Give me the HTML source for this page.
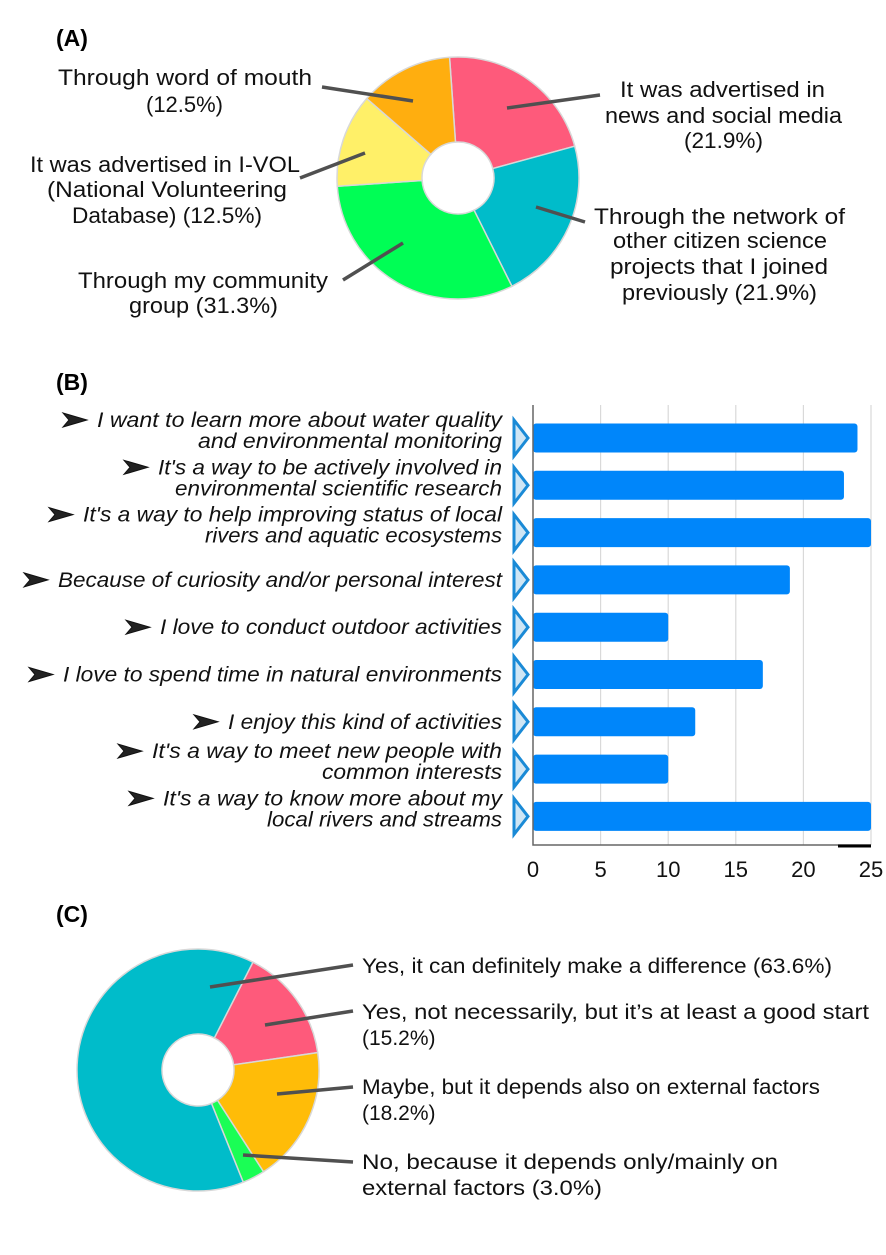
<!DOCTYPE html>
<html><head><meta charset="utf-8"><style>
html,body{margin:0;padding:0;background:#fff;}
svg{display:block;font-family:"Liberation Sans",sans-serif;}
</style></head><body>
<svg id="fig" width="886" height="1255" viewBox="0 0 886 1255" xmlns="http://www.w3.org/2000/svg">
<text x="56" y="46" font-size="23" font-weight="bold">(A)</text>
<text x="56" y="390" font-size="23" font-weight="bold">(B)</text>
<text x="56" y="922" font-size="23" font-weight="bold">(C)</text>
<g id="donutA"></g>
<g id="donutC"></g>
<g id="barB"></g>
</svg>
<script>
const NS="http://www.w3.org/2000/svg";
// Panel A data
const aCategories=["It was advertised in news and social media","Through the network of other citizen science projects that I joined previously","Through my community group","It was advertised in I-VOL (National Volunteering Database)","Through word of mouth"];
const aValues=[21.9,21.9,31.3,12.5,12.5];
const aColors=["#fe5a7b","#00bcca","#00fe55","#fff068","#ffae0f"];
// Panel C data
const cCategories=["Yes, not necessarily, but it's at least a good start","Maybe, but it depends also on external factors","No, because it depends only/mainly on external factors","Yes, it can definitely make a difference"];
const cValues=[15.2,18.2,3.0,63.6];
const cColors=["#fe5a7b","#ffbc08","#1afe55","#00bcca"];
// Panel B data
const bCategories=["I want to learn more about water quality|and environmental monitoring","It's a way to be actively involved in|environmental scientific research","It's a way to help improving status of local|rivers and aquatic ecosystems","Because of curiosity and/or personal interest","I love to conduct outdoor activities","I love to spend time in natural environments","I enjoy this kind of activities","It's a way to meet new people with|common interests","It's a way to know more about my|local rivers and streams"];
const bValues=[24,23,25,19,10,17,12,10,25];
const bTicks=[0,5,10,15,20,25];

function mk(tag,attrs,parent){const e=document.createElementNS(NS,tag);for(const k in attrs)e.setAttribute(k,attrs[k]);parent.appendChild(e);return e;}
function donut(g,vals,colors,cx,cy,R,r,startDeg,name){
  const tot=vals.reduce((a,b)=>a+b,0);let a=startDeg;
  vals.forEach((v,i)=>{
    const a2=a+v/tot*360;
    const p=(ang,rad)=>[cx+rad*Math.sin(ang*Math.PI/180),cy-rad*Math.cos(ang*Math.PI/180)];
    const [x1,y1]=p(a,R),[x2,y2]=p(a2,R),[x3,y3]=p(a2,r),[x4,y4]=p(a,r);
    const lg=(a2-a)>180?1:0;
    const path=mk("path",{d:`M${x1},${y1}A${R},${R} 0 ${lg} 1 ${x2},${y2}L${x3},${y3}A${r},${r} 0 ${lg} 0 ${x4},${y4}Z`,fill:colors[i],stroke:"#d8d8d8","stroke-width":"1.5"},g);
    
    
    a=a2;
  });
}
function line(g,x1,y1,x2,y2,name){const l=mk("line",{x1,y1,x2,y2,stroke:"#505050","stroke-width":"3.5"},g);
  
  }
function txt(g,x,y,s,attrs,name){const t=mk("text",Object.assign({x,y,"font-size":"20",fill:"#111"},attrs||{}),g);t.textContent=s;
  
  return t;}
function fit(g,x1,x2,y,s,name,fs){return txt(g,x1,y,s,{"font-size":fs||"22",textLength:String(x2-x1),lengthAdjust:"spacingAndGlyphs"},name);}

// Panel A
const gA=document.getElementById("donutA");
donut(gA,aValues,aColors,458,178,121,36,-4,"donut-a");
line(gA,507,108,600,95,"leader-news");
line(gA,536,207,585,222,"leader-network");
line(gA,403,243,343,280,"leader-community");
line(gA,365,153,300,178,"leader-ivol");
line(gA,413,101,322,87,"leader-word");
fit(gA,58,312,85,"Through word of mouth","label-word-of-mouth");
fit(gA,146,223,112,"(12.5%)","label-word-of-mouth-pct");
fit(gA,30,300,172,"It was advertised in I-VOL","label-ivol");
fit(gA,47,287,197,"(National Volunteering","label-ivol-2");
fit(gA,72,262,223,"Database) (12.5%)","label-ivol-3");
fit(gA,78,328,288,"Through my community","label-community");
fit(gA,129,278,313,"group (31.3%)","label-community-2");
fit(gA,620,825,97,"It was advertised in","label-news");
fit(gA,605,842,123,"news and social media","label-news-2");
fit(gA,684,763,148,"(21.9%)","label-news-3");
fit(gA,594,845,224,"Through the network of","label-network");
fit(gA,613,827,248,"other citizen science","label-network-2");
fit(gA,610,828,274,"projects that I joined","label-network-3");
fit(gA,622,817,300,"previously (21.9%)","label-network-4");

// Panel C
const gC=document.getElementById("donutC");
donut(gC,cValues,cColors,198,1070,121,36,27,"donut-c");
line(gC,210,987,353,965,"leader-definitely");
line(gC,265,1025,353,1011,"leader-good-start");
line(gC,277,1094,353,1087,"leader-maybe");
line(gC,243,1155,353,1162,"leader-no");
txt(gC,362,973,"Yes, it can definitely make a difference (63.6%)",{"font-size":"21",textLength:"470",lengthAdjust:"spacingAndGlyphs"},"label-definitely");
txt(gC,362,1019,"Yes, not necessarily, but it\u2019s at least a good start",{"font-size":"21",textLength:"507",lengthAdjust:"spacingAndGlyphs"},"label-good-start");
txt(gC,362,1045,"(15.2%)",{"font-size":"21"},"label-good-start-pct");
txt(gC,362,1094,"Maybe, but it depends also on external factors",{"font-size":"21",textLength:"458",lengthAdjust:"spacingAndGlyphs"},"label-maybe");
txt(gC,362,1120,"(18.2%)",{"font-size":"21"},"label-maybe-pct");
txt(gC,362,1169,"No, because it depends only/mainly on",{"font-size":"21",textLength:"416",lengthAdjust:"spacingAndGlyphs"},"label-no");
txt(gC,362,1195,"external factors (3.0%)",{"font-size":"21",textLength:"240",lengthAdjust:"spacingAndGlyphs"},"label-no-2");

// Panel B
const gB=document.getElementById("barB");
const x0=533,pxPerUnit=(871-533)/25,yTop=405,yBot=845,firstC=438,step=47.3,bh=29;
const xs=v=>x0+v*pxPerUnit;
const yc=i=>firstC+i*step;
bTicks.forEach(t=>{
  if(t>0){const gl=mk("line",{x1:xs(t),y1:yTop,x2:xs(t),y2:yBot,stroke:"#d9d9d9","stroke-width":"1.2"},gB);
  
  }
  const tl=mk("text",{x:xs(t),y:877,"font-size":"22","text-anchor":"middle",fill:"#111"},gB);tl.textContent=t;
  
  
});
const lineStarts=[[97,198],[158,175],[83,205],[58],[160],[63],[228],[152,322],[163,267]];
bValues.forEach((v,i)=>{
  const c=yc(i);
  const r=mk("rect",{x:x0,y:c-bh/2,width:xs(v)-x0,height:bh,rx:3,fill:"#0086fa"},gB);
  
  
  const tri=mk("path",{d:`M${514},${c-18}L${528},${c}L${514},${c+18}Z`,fill:"#cfe6f5",stroke:"#1a8ad6","stroke-width":"3","stroke-linejoin":"miter"},gB);
  
  
  const parts=bCategories[i].split("|");
  const st=lineStarts[i];
  const ys=parts.length===2?[c-11,c+10]:[c+7];
  parts.forEach((p,j)=>{
    txt(gB,st[j],ys[j],p,{"font-size":"21","font-style":"italic",textLength:String(502-st[j]),lengthAdjust:"spacingAndGlyphs"},"category-label-"+(i+1)+"-line-"+(j+1));
  });
  const ax0=st[0]-34, ay=ys[0]-7;
  const ar=mk("path",{d:`M${ax0},${ay-7}L${ax0+24},${ay}L${ax0},${ay+7}L${ax0+6},${ay}Z`,fill:"#222",stroke:"#111","stroke-width":"1"},gB);
  
  
});
const ax=mk("path",{d:`M${x0},${yTop}L${x0},${yBot}L${xs(25)},${yBot}`,fill:"none",stroke:"#666","stroke-width":"1.5"},gB);


const blk=mk("line",{x1:838,y1:846,x2:871,y2:846,stroke:"#000","stroke-width":"3"},gB);


</script>
</body></html>
